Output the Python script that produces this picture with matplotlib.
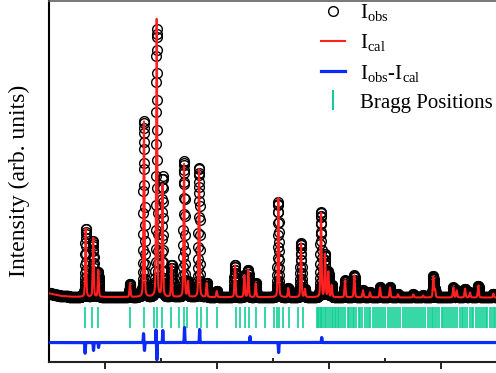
import numpy as np
import matplotlib
matplotlib.use('Agg')
import matplotlib.pyplot as plt
from matplotlib.lines import Line2D
from matplotlib.ticker import MultipleLocator

plt.rcParams['font.family'] = ['Liberation Serif', 'DejaVu Serif']
plt.rcParams['mathtext.fontset'] = 'custom'
plt.rcParams['mathtext.rm'] = 'Liberation Serif'
plt.rcParams['mathtext.it'] = 'Liberation Serif:italic'

# peak positions (2theta) and net heights
peak_pos = [16.55, 17.9, 18.8, 24.46, 26.96, 29.23, 30.27, 31.88, 34.11, 34.82, 36.79, 38.16, 39.95,
            43.21, 44.88, 45.59, 46.91, 50.95, 52.73, 55.0, 55.71, 58.57, 59.29, 59.88, 60.48,
            62.86, 64.52, 66.07, 67.32, 69.11, 70.89, 72.32, 75.05, 76.79, 78.63, 78.93,
            82.2, 82.8, 84.29, 85.18, 86.66, 89.34]
peak_h = [2480, 2120, 970, 470, 6300, 10050, 4060, 1150, 4810, 540, 4630, 500, 215,
          1150, 790, 970, 500, 3590, 320, 1940, 290, 3050, 1540, 900, 430,
          610, 790, 250, 180, 360, 360, 110, 110, 70, 750, 290,
          360, 250, 320, 180, 430, 140]

# background points
bg_x = [10, 12, 14, 20, 30, 40, 50, 60, 70, 80, 90]
bg_y = [470, 380, 345, 335, 335, 330, 330, 330, 322, 320, 318]

# misfit spikes (obs - cal)
res_pos = [16.45, 17.95, 18.85, 26.88, 27.05, 29.12, 29.26, 30.32, 34.2, 36.9, 45.9, 51.0, 58.7]
res_amp = [-395, -290, -180, 320, -290, 450, -620, 430, 540, 470, 215, -360, 180]

# Bragg reflections
bragg = [16.43, 17.73, 18.80, 24.46, 26.96, 28.80, 29.23, 30.23, 31.79, 33.27, 34.16, 34.59,
         36.38, 37.14, 38.16, 40.05, 43.34, 44.11, 45.0, 45.77, 46.96, 48.57, 50.18, 50.66,
         51.13, 51.84, 52.91, 54.52, 55.41,
         57.8, 58.0, 58.2, 58.5, 58.6, 58.9, 59.3, 59.5, 59.9, 60.2, 60.5, 60.7, 61.0, 61.3,
         61.6, 61.8, 62.2, 62.5, 62.9, 63.4, 63.6, 63.9, 64.3, 64.5, 64.8, 65.3, 65.6, 65.9,
         66.5, 66.8, 67.1, 67.4, 67.9, 68.3, 68.5, 68.9, 69.3, 69.6, 70.0, 70.6, 70.9, 71.3,
         71.6, 72.0, 72.3, 72.7, 73.3, 73.6, 73.9, 74.3, 74.6, 75.0, 75.4, 75.8, 76.1, 76.5,
         76.8, 77.2, 77.7, 78.0, 78.4, 78.6, 78.9, 79.3, 79.6, 80.1, 80.4, 80.8, 81.1, 81.5,
         81.8, 82.2, 82.5, 82.9, 83.4, 83.7, 84.0, 84.3, 84.7, 85.2, 85.5, 85.8, 86.2, 86.6,
         86.9, 87.3, 87.7, 88.0, 88.3, 88.7, 89.1, 89.4, 89.7]

fwhm = 0.22
eta = 0.3
diff_offset = -1300

tt = np.arange(10, 90.001, 0.02)


def pv(x, x0, h, w):
    g = np.exp(-4 * np.log(2) * ((x - x0) / w) ** 2)
    l = 1 / (1 + 4 * ((x - x0) / w) ** 2)
    return h * (eta * l + (1 - eta) * g)


ical = np.interp(tt, bg_x, bg_y)
for p, h in zip(peak_pos, peak_h):
    ical += pv(tt, p, h, fwhm)
res = np.zeros_like(tt)
for p, a in zip(res_pos, res_amp):
    res += a * np.exp(-4 * np.log(2) * ((tt - p) / 0.1) ** 2)
iobs = ical + res
idiff = iobs - ical + diff_offset

fig = plt.figure(figsize=(4.96, 3.73), dpi=100)
ax = fig.add_axes([49 / 496, 11 / 373, 448 / 496, 361.5 / 373])

ax.plot(tt, iobs, 'o', mfc='none', mec='black', ms=7, mew=1.0, label=r'$\mathrm{I_{obs}}$', zorder=2)
ax.plot(tt, ical, color='#ff2020', lw=1.5, label=r'$\mathrm{I_{cal}}$', zorder=3)
ax.plot(tt, idiff, color='#0a2af5', lw=2.3, label=r'$\mathrm{I_{obs}}$-$\mathrm{I_{cal}}$', zorder=3)
ax.vlines(bragg, -776, -22, color='#10cf95', lw=1.2, zorder=2)

ax.set_xlim(10, 90)
ax.set_ylim(-2000, 11000)
ax.set_yticks([])
ax.xaxis.set_major_locator(MultipleLocator(20))
ax.xaxis.set_minor_locator(MultipleLocator(10))
ax.tick_params(axis='x', which='major', direction='out', length=5, width=1.2, labelbottom=False)
ax.tick_params(axis='x', which='minor', direction='in', length=3, width=1.2)
ax.spines['top'].set_color('#606060')
ax.spines['top'].set_linewidth(1.2)
ax.spines['left'].set_linewidth(1.5)
ax.spines['bottom'].set_linewidth(1.5)
ax.spines['bottom'].set_color('#222222')

ax.set_ylabel('Intensity (arb. units)', fontsize=17, labelpad=14)

h, l = ax.get_legend_handles_labels()
h.append(Line2D([], [], marker='|', ls='none', color='#10cf95', ms=15, mew=1.5))
l.append('Bragg Positions')
fig.legend(h, l, loc='upper left', bbox_to_anchor=(0.648, 0.995), frameon=False,
           fontsize=15, handlelength=1.15, handletextpad=0.7, labelspacing=0.45,
           borderpad=0, borderaxespad=0)

fig.savefig('out.png', dpi=100)
